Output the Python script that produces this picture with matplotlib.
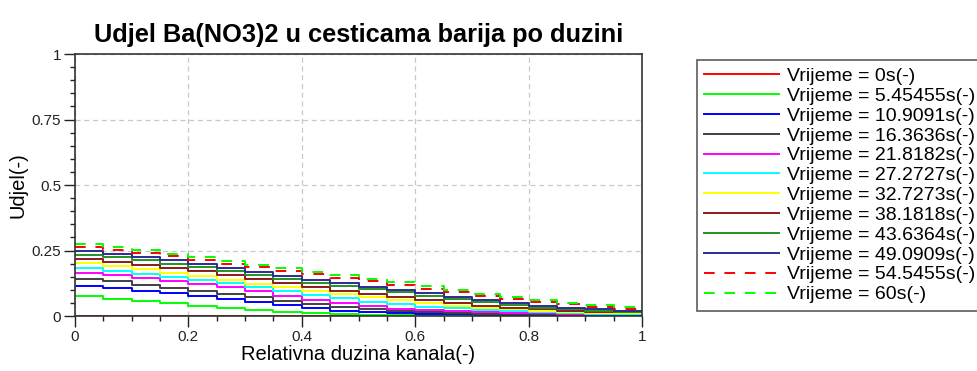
import matplotlib
matplotlib.use("Agg")
import matplotlib.pyplot as plt
from matplotlib.ticker import MultipleLocator
import numpy as np

plt.rcParams['font.family'] = ['Liberation Sans', 'DejaVu Sans']

# Cell edges along the channel (20 cells)
x_edges = np.arange(21) * 0.05

times = ['0', '5.45455', '10.9091', '16.3636', '21.8182', '27.2727',
         '32.7273', '38.1818', '43.6364', '49.0909', '54.5455', '60']

# Fraction of Ba(NO3)2 in each cell, one list per time step
u_00 = [0.0] * 20
u_05 = [0.075, 0.066, 0.057, 0.048, 0.039, 0.030, 0.022, 0.015, 0.010, 0.006,
        0.004, 0.002, 0.001, 0.001, 0.0, 0.0, 0.0, 0.0, 0.0, 0.0]
u_11 = [0.115, 0.106, 0.096, 0.086, 0.075, 0.065, 0.053, 0.041, 0.030, 0.021,
        0.015, 0.010, 0.008, 0.006, 0.005, 0.004, 0.004, 0.003, 0.003, 0.003]
u_16 = [0.143, 0.132, 0.120, 0.108, 0.096, 0.085, 0.071, 0.057, 0.045, 0.035,
        0.026, 0.019, 0.015, 0.012, 0.009, 0.007, 0.006, 0.005, 0.004, 0.004]
u_22 = [0.166, 0.156, 0.145, 0.134, 0.122, 0.110, 0.094, 0.078, 0.063, 0.050,
        0.038, 0.028, 0.022, 0.018, 0.015, 0.012, 0.010, 0.008, 0.007, 0.006]
u_27 = [0.184, 0.173, 0.161, 0.149, 0.137, 0.125, 0.110, 0.095, 0.080, 0.067,
        0.055, 0.044, 0.036, 0.029, 0.023, 0.018, 0.014, 0.011, 0.009, 0.008]
u_33 = [0.202, 0.191, 0.178, 0.165, 0.152, 0.138, 0.123, 0.109, 0.095, 0.083,
        0.071, 0.060, 0.049, 0.040, 0.032, 0.025, 0.019, 0.015, 0.012, 0.010]
u_38 = [0.216, 0.206, 0.195, 0.183, 0.170, 0.157, 0.141, 0.125, 0.110, 0.097,
        0.084, 0.072, 0.060, 0.049, 0.039, 0.031, 0.025, 0.020, 0.017, 0.014]
u_44 = [0.234, 0.224, 0.212, 0.200, 0.187, 0.173, 0.158, 0.142, 0.127, 0.114,
        0.102, 0.090, 0.077, 0.064, 0.052, 0.041, 0.031, 0.025, 0.020, 0.017]
u_49 = [0.248, 0.238, 0.226, 0.212, 0.197, 0.182, 0.167, 0.152, 0.138, 0.125,
        0.112, 0.100, 0.086, 0.073, 0.061, 0.050, 0.040, 0.032, 0.026, 0.021]
u_55 = [0.263, 0.253, 0.241, 0.228, 0.214, 0.200, 0.186, 0.172, 0.159, 0.146,
        0.133, 0.119, 0.105, 0.091, 0.078, 0.065, 0.053, 0.044, 0.035, 0.026]
u_60 = [0.274, 0.263, 0.251, 0.238, 0.224, 0.210, 0.196, 0.182, 0.168, 0.155,
        0.142, 0.128, 0.114, 0.099, 0.085, 0.072, 0.060, 0.050, 0.041, 0.033]

series = [u_00, u_05, u_11, u_16, u_22, u_27, u_33, u_38, u_44, u_49, u_55, u_60]

colors = ['#ff0000', '#00ff00', '#0000ff', '#404040', '#ff00ff', '#00ffff',
          '#ffff00', '#8b1a1a', '#229022', '#2b2b96', '#ff0000', '#00ff00']
dashed = [False] * 10 + [True, True]

fig = plt.figure(figsize=(9.77, 3.71), dpi=100)
fig.patch.set_facecolor('white')
ax = fig.add_axes([0.0768, 0.1482, 0.5803, 0.7062])

for t, vals, c, d in zip(times, series, colors, dashed):
    y = list(vals) + [vals[-1]]
    line, = ax.step(x_edges, y, where='post', color=c, lw=1.4,
                    label=f'Vrijeme = {t}s(-)')
    if d:
        line.set_dashes((5.5, 5.0))

ax.set_xlim(0, 1)
ax.set_ylim(0, 1)
ax.xaxis.set_minor_locator(MultipleLocator(0.05))
ax.yaxis.set_minor_locator(MultipleLocator(0.05))
ax.set_xticks([0, 0.2, 0.4, 0.6, 0.8, 1])
ax.set_xticklabels(['0', '0.2', '0.4', '0.6', '0.8', '1'])
ax.set_yticks([0, 0.25, 0.5, 0.75, 1])
ax.set_yticklabels(['0', '0.25', '0.5', '0.75', '1'])
ax.tick_params(which='major', direction='out', length=8, width=1,
               labelsize=11, colors='#222222', pad=2)
ax.tick_params(which='minor', direction='out', length=3.6, width=1,
               colors='#222222')
ax.grid(True, which='major', color='#c8c8c8', ls=(0, (4, 3)), lw=0.9)
for s in ax.spines.values():
    s.set_color('#333333')
    s.set_linewidth(1.2)

ax.set_xlabel('Relativna duzina kanala(-)', fontsize=14.5, labelpad=1)
ax.set_ylabel('Udjel(-)', fontsize=14.5, labelpad=3)
ax.set_title('Udjel Ba(NO3)2 u cesticama barija po duzini', fontsize=18.3,
             fontweight='bold', pad=9)

leg = fig.legend(loc='upper left', bbox_to_anchor=(697 / 977, 1 - 60 / 371),
                 fontsize=14, handlelength=3.85, handletextpad=0.4,
                 labelspacing=0.115, borderpad=0.38, frameon=True,
                 fancybox=False, borderaxespad=0)
leg.get_frame().set_edgecolor('#333333')
leg.get_frame().set_linewidth(1.2)

fig.savefig('out.png', dpi=100)
